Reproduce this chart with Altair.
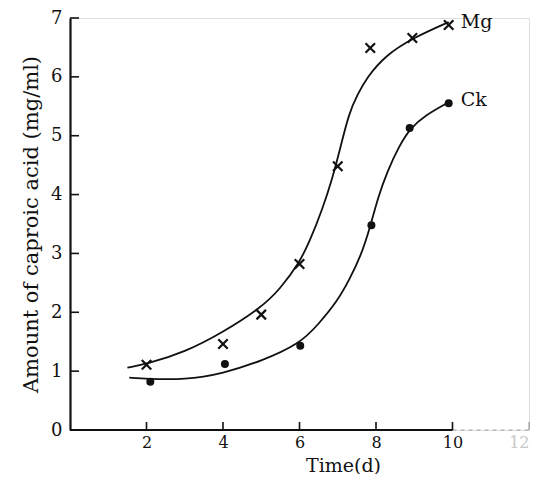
import altair as alt
import pandas as pd

# ---------------- data ----------------
x_ticks = [2, 4, 6, 8, 10, 12]
y_ticks = [0, 1, 2, 3, 4, 5, 6, 7]

mg_day = [2.0, 4.0, 5.0, 6.0, 7.0, 7.85, 8.95, 9.9]
mg_val = [1.11, 1.46, 1.96, 2.82, 4.48, 6.49, 6.66, 6.88]

ck_day = [2.1, 4.05, 6.02, 7.88, 8.88, 9.9]
ck_val = [0.82, 1.12, 1.43, 3.48, 5.13, 5.55]

mg_curve_day = [1.5, 2.0, 3.0, 4.0, 5.0, 5.5, 6.0, 6.25, 6.6, 6.87, 7.05, 7.3, 7.52, 7.75, 8.25, 9.0, 9.9]
mg_curve_val = [1.06, 1.12, 1.32, 1.66, 2.08, 2.4, 2.85, 3.18, 3.75, 4.3, 4.75, 5.4, 5.7, 5.98, 6.37, 6.67, 6.93]

ck_curve_day = [1.55, 2.0, 3.0, 4.0, 5.0, 6.0, 6.5, 7.0, 7.3, 7.6, 7.85, 8.05, 8.3, 8.6, 8.9, 9.3, 9.85]
ck_curve_val = [0.89, 0.87, 0.85, 0.96, 1.17, 1.46, 1.8, 2.2, 2.55, 2.95, 3.45, 3.95, 4.4, 4.82, 5.13, 5.35, 5.55]

series_names = ["Mg", "Ck"]
axis_start = [0, 10]
axis_end = [10, 12]

# ---------------- tables ----------------
mg_pts = pd.DataFrame({"t": mg_day, "v": mg_val})
ck_pts = pd.DataFrame({"t": ck_day, "v": ck_val})
curves = pd.concat([
    pd.DataFrame({"t": mg_curve_day, "v": mg_curve_val, "s": "Mg"}),
    pd.DataFrame({"t": ck_curve_day, "v": ck_curve_val, "s": "Ck"}),
])
labels = pd.DataFrame({
    "t": [mg_day[-1], ck_day[-1]],
    "v": [mg_val[-1], ck_val[-1]],
    "s": series_names,
})
xt = pd.DataFrame({"t": x_ticks})
yt = pd.DataFrame({"v": y_ticks})
xline = pd.DataFrame({"t": axis_start, "t2": axis_end, "v": [0, 0]})

FONT = "DejaVu Serif"
W, H = 459, 412

xscale = alt.Scale(domain=[0, 12], nice=False, zero=False)
yscale = alt.Scale(domain=[0, 7], nice=False, zero=False)

xaxis = alt.Axis(
    values=x_ticks, ticks=False, domain=False, grid=False,
    labelFont=FONT, labelFontSize=16, labelPadding=4,
    labelColor={"expr": "datum.value == 12 ? '#c8c8c8' : '#111111'"},
    title="Time(d)", titleFont=FONT, titleFontSize=19, titleFontWeight="normal",
    titleColor="#111111", titleX=273, titleAlign="center", titlePadding=6,
)
yaxis = alt.Axis(
    values=y_ticks, ticks=False, domain=True, domainColor="#111111",
    domainWidth=2.2, grid=False, format="d",
    labelFont=FONT, labelFontSize=18, labelPadding=8, labelColor="#111111",
    title="Amount of caproic acid (mg/ml)", titleFont=FONT, titleFontSize=21,
    titleFontWeight="normal", titleColor="#111111",
    titleX=-39, titleY=H / 2, titleBaseline="middle", titleAlign="center",
)

X = alt.X("t:Q", scale=xscale, axis=xaxis)
Y = alt.Y("v:Q", scale=yscale, axis=yaxis)

curve_layer = alt.Chart(curves).mark_line(
    color="#111111", strokeWidth=1.8, interpolate="basis"
).encode(x=X, y=Y, detail="s:N")

xmark = "M-1,-1L1,1M-1,1L1,-1"
mg_layer = alt.Chart(mg_pts).mark_point(
    shape=xmark, filled=False, color="#111111", strokeWidth=2.2, size=90, opacity=1
).encode(x=X, y=Y)

ck_layer = alt.Chart(ck_pts).mark_point(
    shape="circle", filled=True, color="#111111", size=64, opacity=1
).encode(x=X, y=Y)

label_layer = alt.Chart(labels).mark_text(
    align="left", baseline="middle", dx=12, dy=-3, font=FONT, fontSize=19,
    color="#111111"
).encode(x=X, y=Y, text="s:N")

xline_layer = alt.Chart(xline).mark_rule(color="#111111").encode(
    x=X, x2="t2:Q", y=Y,
    strokeDash=alt.condition("datum.t == 10", alt.value([4, 4]), alt.value([1, 0])),
    opacity=alt.condition("datum.t == 10", alt.value(0.35), alt.value(1)),
    strokeWidth=alt.condition("datum.t == 10", alt.value(1), alt.value(1.8)),
)

xtick_layer = alt.Chart(xt).mark_rule(color="#111111", strokeWidth=1.6).encode(
    x=X, y=alt.value(H), y2=alt.value(H - 8),
    opacity=alt.condition("datum.t == 12", alt.value(0.3), alt.value(1)),
)

ytick_layer = alt.Chart(yt).mark_rule(color="#111111", strokeWidth=1.6).encode(
    y=Y, x=alt.value(0), x2=alt.value(9),
)

chart = alt.layer(
    curve_layer, xline_layer, xtick_layer, ytick_layer, mg_layer, ck_layer, label_layer
).properties(
    width=W, height=H,
    autosize=alt.AutoSizeParams(type="none"),
    padding={"left": 62, "top": 10, "right": 9, "bottom": 44},
).configure_view(stroke=None).configure(background="white")

chart.save("out.html", embed_options={"renderer": "svg", "actions": False})
